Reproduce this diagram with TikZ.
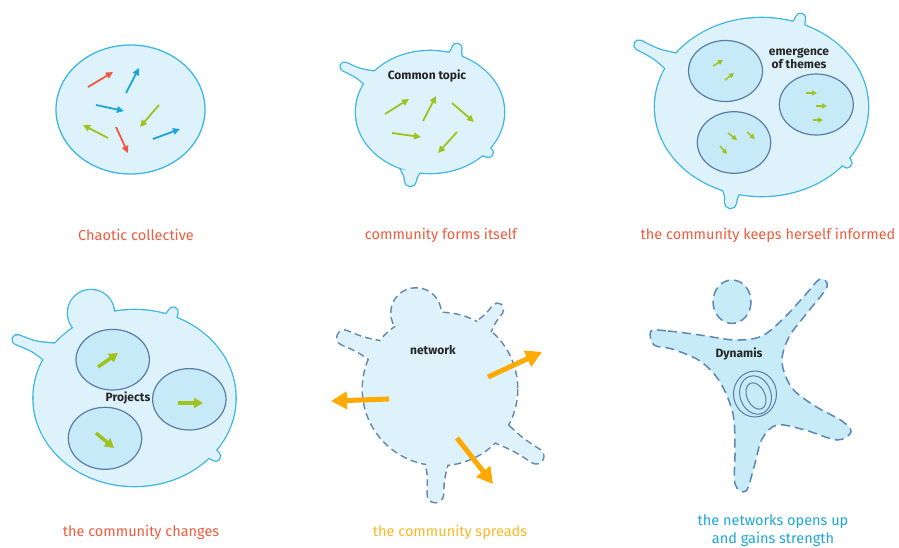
\documentclass[tikz,border=0pt]{standalone}
\usepackage{fontspec}
\setmainfont{Fira Sans}
\usetikzlibrary{arrows.meta,calc}
\definecolor{blobfill}{HTML}{DDF2FB}
\definecolor{blobline}{HTML}{3DB6E3}
\definecolor{innerfill}{HTML}{C6EAF8}
\definecolor{innerline}{HTML}{5A7CA5}
\definecolor{dashline}{HTML}{5C87B4}
\definecolor{starfill}{HTML}{C8EBF8}
\definecolor{arrred}{HTML}{F0573B}
\definecolor{arrblue}{HTML}{1CA4DC}
\definecolor{arrgreen}{HTML}{A0C21E}
\definecolor{arrorange}{HTML}{FFAA00}
\definecolor{capred}{HTML}{EF5B3D}
\definecolor{capyellow}{HTML}{FBB726}
\definecolor{capcyan}{HTML}{1DA7D8}
% tapered bump: style, base x, base y, tip x, tip y, base half width, tip radius
\newcommand{\bump}[7]{%
  \pgfmathsetmacro{\bumpang}{atan2(-(#5-#3),#4-#2)}%
  \pgfmathsetmacro{\bumplen}{veclen(#4-#2,#5-#3)}%
  \path[#1, shift={(#2,#3)}, rotate=\bumpang] (0,#6) .. controls (0.45*\bumplen,#7) .. (\bumplen-#7,#7)
    arc[start angle=90, end angle=-90, radius=#7] .. controls (0.45*\bumplen,-#7) .. (0,-#6) -- cycle;}
\newcommand{\topicblob}[1]{%
  \path[#1] (430,112) ellipse [x radius=74, y radius=61];
  \bump{#1}{373}{80}{341}{65}{9}{4}
  \bump{#1}{455}{56}{458}{44}{7}{4.5}
  \bump{#1}{483}{149}{492}{155}{7}{4.5}
  \bump{#1}{411}{170}{410}{186}{10}{5.5}
}
\newcommand{\themeblob}[1]{%
  \path[#1] (761.5,107) ellipse [x radius=106.5, y radius=89];
  \bump{#1}{674}{63}{635}{43}{10}{4.5}
  \bump{#1}{798}{26}{802}{14}{7}{4.5}
  \bump{#1}{841}{157}{850}{166}{7}{4.5}
  \bump{#1}{732}{188}{730}{208}{10}{5.5}
}
\newcommand{\projectblob}[1]{%
  \path[#1] (134.5,398) ellipse [x radius=101, y radius=88];
  \path[#1] (91,313) circle [radius=23];
  \bump{#1}{51}{353}{13}{338}{10}{4.5}
  \bump{#1}{170}{319}{175}{308}{7}{4.5}
  \bump{#1}{209}{451}{219}{459}{7}{4.5}
}
\newcommand{\spreadblob}[1]{%
  \path[#1] (440,389) ellipse [x radius=77, y radius=76];
  \path[#1] (416,313) circle [radius=24.5];
  \bump{#1}{482}{329}{501}{305}{9}{5.5}
  \bump{#1}{378}{352}{338}{335}{11}{7}
  \bump{#1}{499}{432}{542}{460}{11}{7}
  \bump{#1}{437}{458}{435}{502}{12}{7.5}
}
\begin{document}
\begin{tikzpicture}[x=1pt, y=-1pt,
    rim/.style={draw=blobline, line width=2.6pt},
    body/.style={fill=blobfill},
    dashrim/.style={draw=dashline, line width=3pt, dash pattern=on 7pt off 4pt},
    theme/.style={draw=innerline, line width=1.2pt, fill=innerfill},
    arr/.style={line width=1.8pt, -{Triangle[length=7pt,width=6.5pt]}},
    tiny/.style={arrgreen, line width=1.5pt, -{Triangle[length=5pt,width=5pt]}},
    fat/.style={arrgreen, line width=3.5pt, -{Triangle[length=9pt,width=10pt]}},
    push/.style={arrorange, line width=5pt, -{Triangle[length=16pt,width=17pt]}},
    tagline/.style={font=\fontsize{14.5}{18}\selectfont, align=center},
    lbl/.style={font=\fontsize{12}{13}\selectfont\bfseries, text=black!85, align=center},
]
\useasboundingbox (0,0) rectangle (899,547);

% chaotic collective
\filldraw[fill=blobfill, draw=blobline, line width=1.3pt] (130.5,109.5) ellipse [x radius=74.5, y radius=64.5];
\draw[arr, arrred] (88,87) -- (113,72);
\draw[arr, arrblue] (126,93) -- (139,68);
\draw[arr, arrblue] (96,105) -- (124,111);
\draw[arr, arrgreen] (159,105) -- (140,127);
\draw[arr, arrgreen] (108,138) -- (83,125);
\draw[arr, arrred] (116,127) -- (128,153);
\draw[arr, arrblue] (153,139) -- (180,129);
\node[tagline, text=capred] (c1) at (136,235) {Chaotic collective};

% community forms itself
\topicblob{rim}
\topicblob{body}
\node[lbl] (topic) at (427,76) {Common topic};
\draw[arr, arrgreen] (385,114) -- (409,99);
\draw[arr, arrgreen] (423,121) -- (436,96);
\draw[arr, arrgreen] (452,103) -- (474,122);
\draw[arr, arrgreen] (392,133) -- (421,137);
\draw[arr, arrgreen] (457,132) -- (438,153);
\node[tagline, text=capred] (c2) at (441,235) {community forms itself};

% keeps herself informed
\themeblob{rim}
\themeblob{body}
\path[theme] (725.5,71) ellipse [x radius=37, y radius=30.5];
\path[theme] (816.3,104.5) ellipse [x radius=37, y radius=30.5];
\path[theme] (734,142.5) ellipse [x radius=36.7, y radius=30.8];
\node[lbl] (themes) at (799,58) {emergence\\of themes};
\draw[tiny] (713,66) -- (723,60);
\draw[tiny] (725,80) -- (734,73);
\draw[tiny] (806,93) -- (817,93);
\draw[tiny] (816,106) -- (827,106);
\draw[tiny] (813,120) -- (823,120);
\draw[tiny] (728,133) -- (737,140);
\draw[tiny] (747,132) -- (755,139);
\draw[tiny] (720,146) -- (727,154);
\node[tagline, text=capred] (c3) at (768,235) {the community keeps herself informed};

% community changes
\projectblob{rim}
\projectblob{body}
\path[theme] (112.7,359.7) ellipse [x radius=36.7, y radius=30.3];
\path[theme] (189.3,399.3) ellipse [x radius=36.7, y radius=30.7];
\path[theme] (105,438.3) ellipse [x radius=36.7, y radius=31];
\node[lbl] (projects) at (128,398) {Projects};
\draw[fat] (98,367) -- (118,353);
\draw[fat] (178,403) -- (203,403);
\draw[fat] (96,433) -- (114,448);
\node[tagline, text=capred] (c4) at (141,532) {the community changes};

% community spreads
\spreadblob{dashrim}
\spreadblob{body}
\node[lbl] (network) at (433,350) {network};
\draw[push] (488,377) -- (542,352);
\draw[push] (389,399) -- (331,401);
\draw[push] (457,438) -- (493,484);
\node[tagline, text=capyellow] (c5) at (450,532) {the community spreads};

% opens up
\filldraw[fill=starfill, draw=dashline, line width=1.5pt, dash pattern=on 9pt off 5pt] (732,301.7) ellipse [x radius=19, y radius=21.7];
\filldraw[fill=starfill, draw=dashline, line width=1.5pt, dash pattern=on 9pt off 5pt]
  plot[smooth cycle, tension=0.55] coordinates {
  (651,331) (668,331) (700,335) (735,340) (762,336) (785,317) (806,294) (820,279)
  (827,287) (807,313) (789,337) (782,362) (792,388) (815,406) (842,421) (851,432)
  (837,440) (805,430) (777,425) (762,439) (754,467) (746,491) (735,484) (735,450)
  (733,414) (720,382) (700,361) (672,349) (654,345)};
\node[lbl] (dynamis) at (739,354) {Dynamis};
\draw[innerline, line width=1pt] (755,394) ellipse [x radius=21.5, y radius=23];
\draw[innerline, line width=1pt, rotate around={18:(755.5,395)}] (755.5,395) ellipse [x radius=15.5, y radius=19.5];
\draw[innerline, line width=1pt, rotate around={25:(756,396)}] (756,396) ellipse [x radius=9, y radius=14];
\node[tagline, text=capcyan] (c6) at (773,531) {the networks opens up\\and gains strength};
\end{tikzpicture}
\end{document}
